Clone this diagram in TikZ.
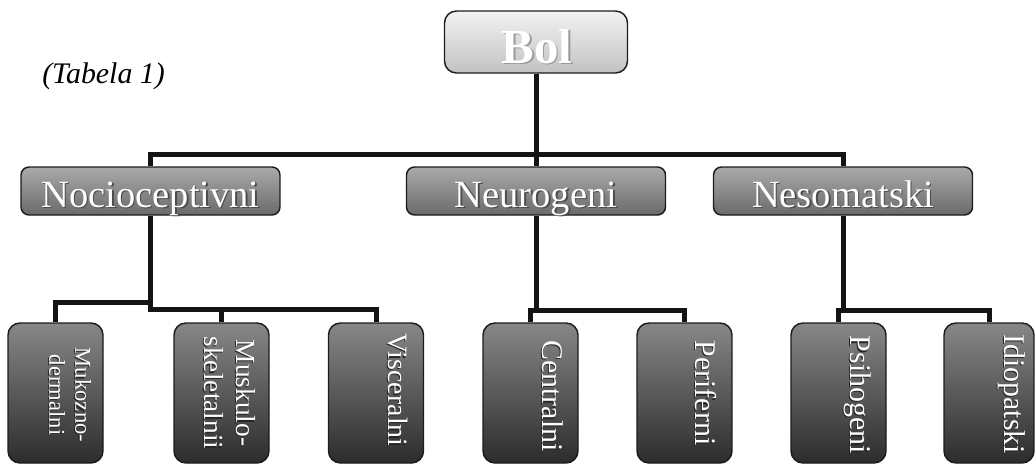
\documentclass[tikz,border=0pt]{standalone}
\usepackage{fontspec}
\setmainfont{Liberation Serif}
\usetikzlibrary{calc}
\definecolor{topA}{HTML}{F2F2F2}
\definecolor{topB}{HTML}{C2C2C2}
\definecolor{midA}{HTML}{AAAAAA}
\definecolor{midB}{HTML}{6A6A6A}
\definecolor{leafA}{HTML}{878787}
\definecolor{leafB}{HTML}{2C2C2C}
\definecolor{edge}{HTML}{1C1C1C}
\newcommand\shtxt[3]{\leavevmode\rlap{\hspace{#2}\raisebox{-#2}{\textcolor{#1}{#3}}}\textcolor{white}{#3}}
\begin{document}
\begin{tikzpicture}[x=0.75pt,y=-0.75pt,
  conn/.style={line width=3.75pt, draw=black!92},
  boxbase/.style={draw=edge, line width=1.1pt, inner sep=0pt},
  topbox/.style={boxbase, rounded corners=9pt, top color=topA, bottom color=topB,
     minimum width=137.25pt, minimum height=46.5pt},
  midbox/.style={boxbase, rounded corners=6pt, top color=midA, bottom color=midB,
     minimum width=194.25pt, minimum height=36pt},
  leafbox/.style={boxbase, rounded corners=9pt, top color=leafA, bottom color=leafB,
     minimum width=71.25pt, minimum height=105pt},
  lbl/.style={inner sep=0pt, anchor=base},
  leaflbl/.style={inner sep=0pt, anchor=base, rotate=-90}
]
\useasboundingbox (0,0) rectangle (1035,464);

% boxes
\node[topbox] (bol) at (536,42) {};
\node[midbox] (noc) at (150.5,191) {};
\node[midbox] (neu) at (536,191) {};
\node[midbox] (nes) at (843,191) {};
\node[leafbox] (muk) at (55.5,393) {};
\node[leafbox] (mus) at (221.5,393) {};
\node[leafbox] (vis) at (376,393) {};
\node[leafbox] (cen) at (530.5,393) {};
\node[leafbox] (per) at (684.5,393) {};
\node[leafbox] (psi) at (838.5,393) {};
\node[leafbox, minimum width=67.5pt] (idi) at (989,393) {};

% connectors
\coordinate (j0) at (536,154);
\draw[conn] (bol.south) -- (j0);
\draw[conn] (noc.north) |- (j0) -| (nes.north);
\draw[conn] (j0) -- (neu.north);
\coordinate (n1) at (150.5,302);
\coordinate (n2) at (150.5,309);
\draw[conn] (noc.south) -- (n2) -| (vis.north);
\draw[conn] (n1) -| (muk.north);
\draw[conn] (mus.north) -- (mus.north |- n2);
\coordinate (u1) at (536,310);
\draw[conn] (neu.south) -- (u1);
\draw[conn] (cen.north) |- (per.north |- u1) -- (per.north);
\coordinate (s1) at (843,310);
\draw[conn] (nes.south) -- (s1);
\draw[conn] (psi.north) |- (idi.north |- s1) -- (idi.north);

% texts
\node[lbl, anchor=base west, font=\itshape\fontsize{22.4pt}{26pt}\selectfont] (tab) at (42,83) {(Tabela 1)};
\node[lbl, font=\bfseries\fontsize{36.75pt}{40pt}\selectfont] (tbol) at ($(bol.center)+(1,21)$) {\shtxt{black!40}{1.2pt}{Bol}};
\node[lbl, font=\fontsize{28.9pt}{32pt}\selectfont] (tnoc) at ($(noc.center)+(0,16)$) {\shtxt{black!70}{1.1pt}{Nocioceptivni}};
\node[lbl, font=\fontsize{28.9pt}{32pt}\selectfont] (tneu) at ($(neu.center)+(0,16)$) {\shtxt{black!70}{1.1pt}{Neurogeni}};
\node[lbl, font=\fontsize{28.9pt}{32pt}\selectfont] (tnes) at ($(nes.center)+(0,16)$) {\shtxt{black!70}{1.1pt}{Nesomatski}};

\node[leaflbl, font=\fontsize{17pt}{20pt}\selectfont] (tmuk1) at ($(muk.west)+(68,2)$) {\shtxt{black!85}{0.9pt}{Mukozno-}};
\node[leaflbl, font=\fontsize{17pt}{20pt}\selectfont] (tmuk2) at ($(muk.west)+(42,2)$) {\shtxt{black!85}{0.9pt}{dermalni}};
\node[leaflbl, font=\fontsize{20.6pt}{24pt}\selectfont] (tmus1) at ($(mus.west)+(63,0)$) {\shtxt{black!85}{0.9pt}{Muskulo-}};
\node[leaflbl, font=\fontsize{20.6pt}{24pt}\selectfont] (tmus2) at ($(mus.west)+(31,0)$) {\shtxt{black!85}{0.9pt}{skeletalnii}};
\node[leaflbl, font=\fontsize{21pt}{24pt}\selectfont] (tvis) at ($(vis.west)+(61,-3)$) {\shtxt{black!85}{0.9pt}{Visceralni}};
\node[leaflbl, font=\fontsize{22.5pt}{26pt}\selectfont] (tcen) at ($(cen.west)+(60,3)$) {\shtxt{black!85}{0.9pt}{Centralni}};
\node[leaflbl, font=\fontsize{22.5pt}{26pt}\selectfont] (tper) at ($(per.west)+(59,0)$) {\shtxt{black!85}{0.9pt}{Periferni}};
\node[leaflbl, font=\fontsize{22.5pt}{26pt}\selectfont] (tpsi) at ($(psi.west)+(60,2)$) {\shtxt{black!85}{0.9pt}{Psihogeni}};
\node[leaflbl, font=\fontsize{22.5pt}{26pt}\selectfont] (tidi) at ($(idi.west)+(61,1)$) {\shtxt{black!85}{0.9pt}{Idiopatski}};
\end{tikzpicture}
\end{document}
